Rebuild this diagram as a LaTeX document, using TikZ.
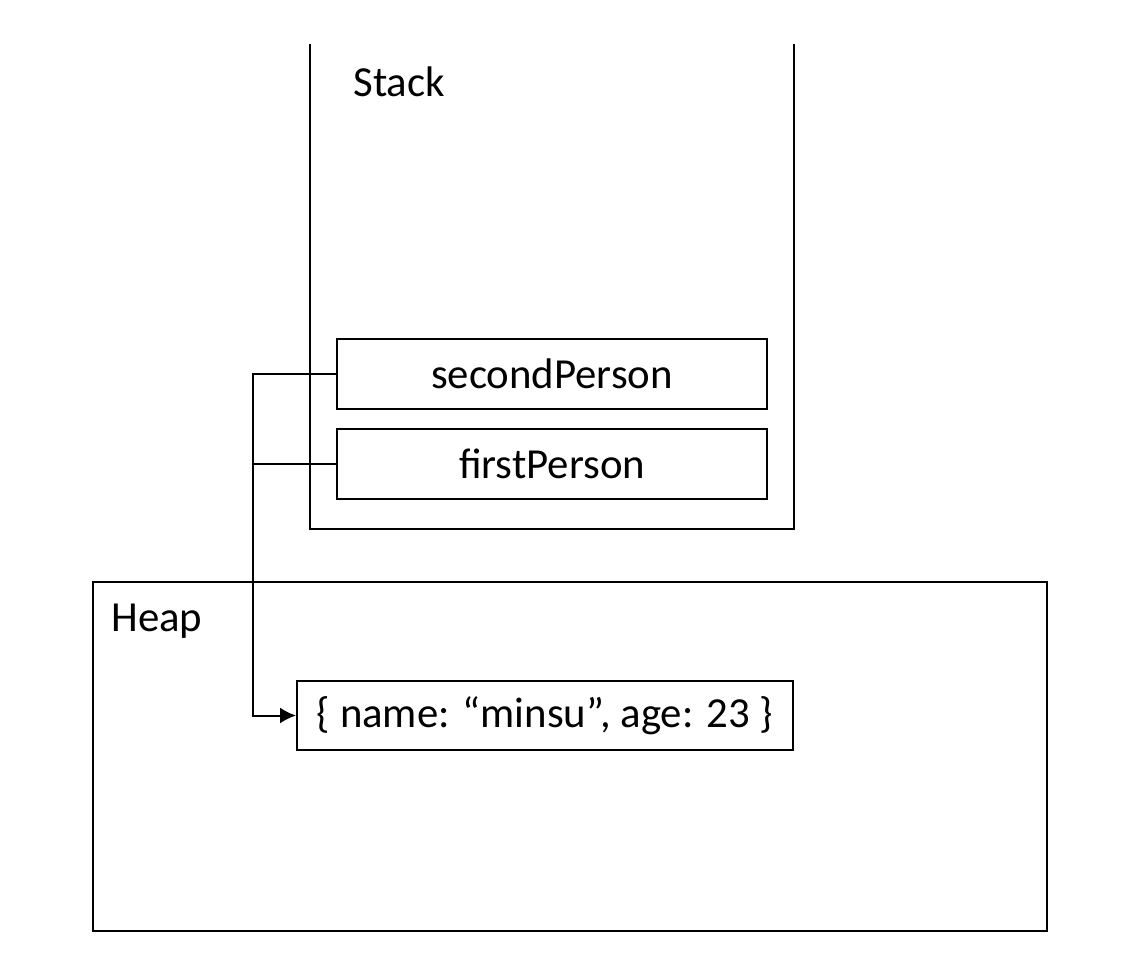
\documentclass[tikz,border=0pt]{standalone}
\usepackage{fontspec}
\setmainfont{Carlito}
\usetikzlibrary{positioning,arrows.meta,calc}
\tikzset{
    block/.style = {
        draw,
        shape=rectangle,
        minimum height=35pt,
        minimum width=215pt,
        line width=1pt,
        font=\fontsize{21.4}{25}\selectfont
    },
    area/.style = {
        shape=rectangle,
        inner sep=0pt,
        line width=1pt
    },
    title/.style = {
        inner sep=0pt,
        anchor=base west,
        font=\fontsize{21.4}{25}\selectfont
    },
    >={Latex[length=8pt,width=8pt]},
}
\begin{document}
\begin{tikzpicture}[x=0.5pt,y=-0.5pt]
                \useasboundingbox (0,0) rectangle (1146,970);
                \node[area,minimum width=241pt,minimum height=241.5pt] (stack) at (552,286.5) {};
                \node[area,draw,minimum width=477pt,minimum height=174.5pt] (heap) at (570,756.5) {};
                \node[title] (stacklabel) at (353,96) {Stack};
                \node[title] (heaplabel) at (111,631) {Heap};
                \node[block] (second) at (552,374) {secondPerson};
                \node[block] (first) at (552,463.5) {firstPerson};
                \node[block,minimum width=248pt,minimum height=34.5pt] (obj) at (545,715.5) {\{ name: “minsu”, age: 23 \}};
                \coordinate (bend) at (253,374);

                \path[draw, line width=1pt] (stack.north west) -- (stack.south west) -- (stack.south east) -- (stack.north east);
                \path[draw, line width=1pt, ->] (second.west) -- (bend) |- (obj.west);
                \path[draw, line width=1pt] (first.west) -- (first.west -| bend);
            \end{tikzpicture}
\end{document}
